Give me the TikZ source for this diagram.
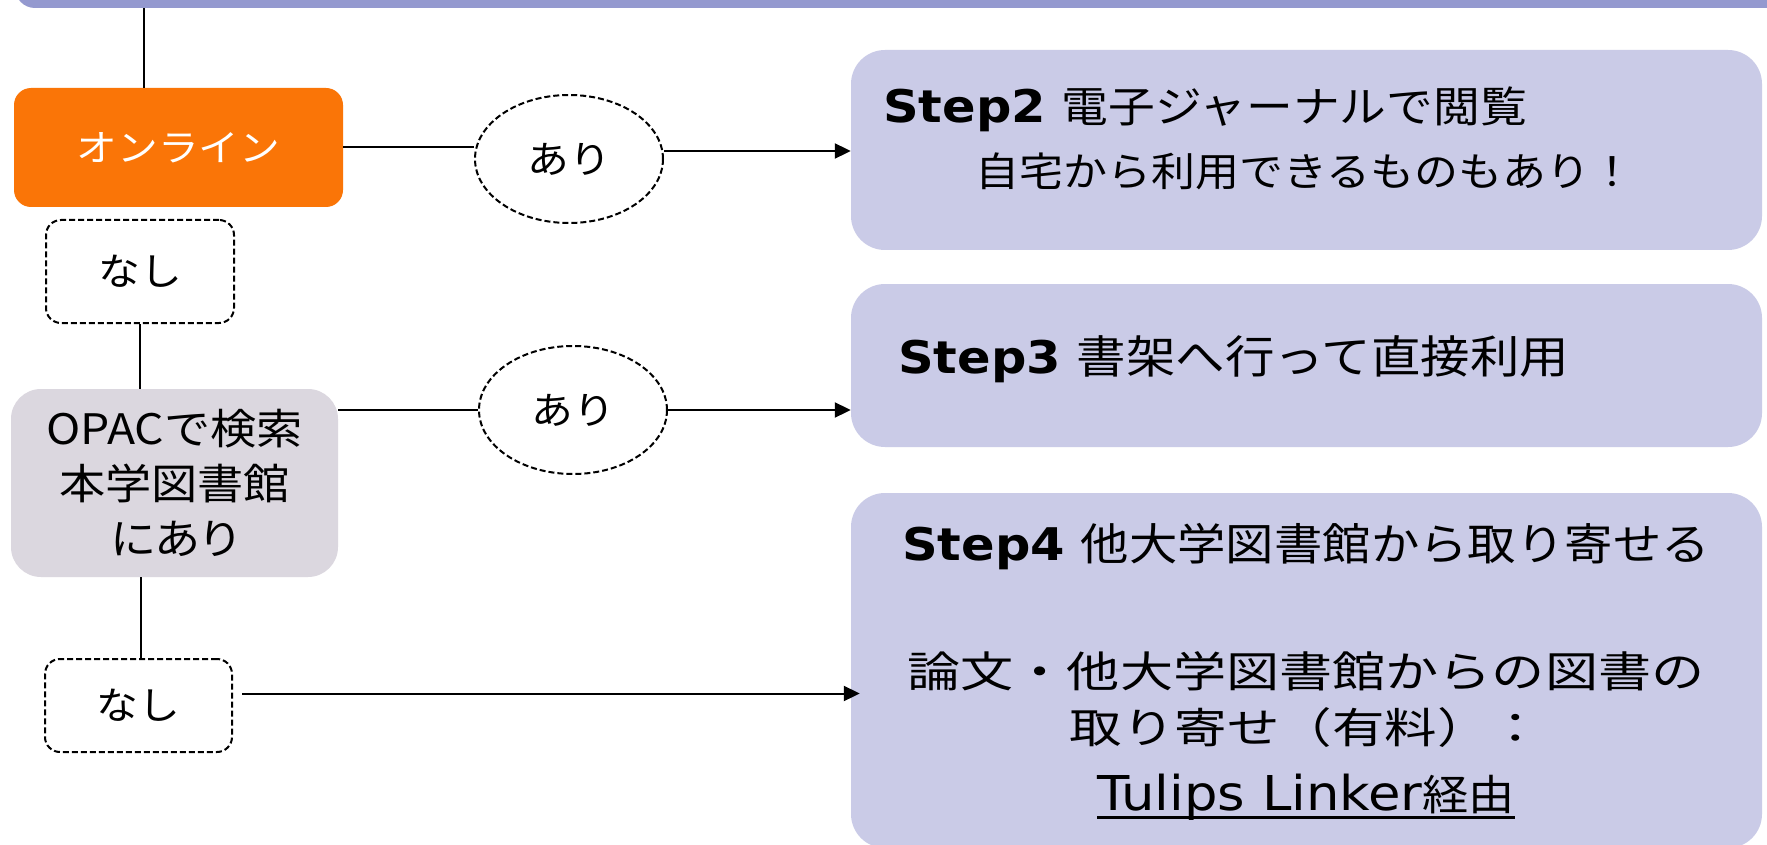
\documentclass[tikz,border=0pt]{standalone}
\usepackage{fontspec}
\setmainfont[FakeStretch=1.1]{DejaVu Sans}
\newfontfamily\cjk[FakeStretch=1.1]{Noto Sans CJK JP}
\newfontfamily\cjkp[FakeStretch=1.1,RawFeature=+palt]{Noto Sans CJK JP}
\newfontfamily\cjkw[FakeStretch=1.25]{Noto Sans CJK JP}
\usetikzlibrary{arrows.meta,shapes.geometric}
\definecolor{barblue}{HTML}{9499CF}
\definecolor{lav}{HTML}{CACBE7}
\definecolor{orng}{HTML}{FA7507}
\definecolor{greyb}{HTML}{DBD7DF}
\newcommand\ulinedtext[1]{\setbox0=\hbox{#1}\rlap{\rule[-9pt]{\wd0}{3.5pt}}\box0}
\newcommand\jfs[1]{\fontsize{#1}{#1}\selectfont}
\begin{document}
\begin{tikzpicture}[x=1pt,y=-1pt,
  topbar/.style={fill=barblue, rounded corners=20pt, minimum width=1800pt, minimum height=96pt, inner sep=0pt},
  stepbox/.style={fill=lav, rounded corners=34pt, minimum width=911pt, inner sep=0pt},
  orangebox/.style={fill=orng, rounded corners=17pt, minimum width=329pt, minimum height=119pt, inner sep=0pt, text=white, font={\cjk\jfs{37}}},
  greybox/.style={fill=greyb, rounded corners=30pt, minimum width=327pt, minimum height=188pt, inner sep=0pt, align=center, font={\cjk\fontsize{42}{55}\selectfont}},
  nashibox/.style={draw, line width=2pt, dash pattern=on 6pt off 3pt, rounded corners=15pt, minimum width=188pt, minimum height=103pt, inner sep=0pt, font={\cjk\jfs{38}}},
  ell/.style={ellipse, draw, line width=2pt, dash pattern=on 6pt off 3pt, minimum width=188pt, minimum height=128pt, inner sep=0pt, font={\cjk\jfs{38}}},
  txt/.style={inner sep=0pt},
  conn/.style={line width=2pt},
  arr/.style={line width=2pt, -{Triangle[length=16pt,width=15pt]}}
]
\useasboundingbox (0,0) rectangle (1767,845);
\fill[white] (0,0) rectangle (1767,845);
\begin{scope}
\clip (0,0) rectangle (1767,845);
\node[topbar] (top) at (915,-40) {};
\node[orangebox] (online) at (178.5,147.5) {オンライン};
\node[ell] (ell1) at (569,159) {あり};
\node[stepbox, minimum height=200pt] (step2) at (1306.5,150) {};
\node[nashibox] (nashi1) at (140,271.5) {なし};
\node[greybox] (opac) at (174.5,483) {OPACで検索\\本学図書館\\{\cjkp にあり}};
\node[ell] (ell2) at (573,410) {あり};
\node[stepbox, minimum height=163pt] (step3) at (1306.5,365.5) {};
\node[nashibox, minimum width=187pt, minimum height=93pt] (nashi2) at (138.5,705.5) {なし};
\node[stepbox, minimum height=355pt] (step4) at (1306.5,670.5) {};

\node[txt, anchor=base west] (s2a) at (883,123) {\fontsize{45}{45}\selectfont\textbf{Step2} {\cjk\jfs{42.5}電子ジャーナルで閲覧}};
\node[txt, anchor=base west] (s2b) at (975,187) {\cjk\jfs{40}自宅から利用できるものもあり！};
\node[txt, anchor=base west] (s3) at (898,373) {\fontsize{45}{45}\selectfont\textbf{Step3} {\cjk\jfs{45}書架へ行って直接利用}};
\node[txt, anchor=base] (s4a) at (1306,560) {\fontsize{45}{45}\selectfont\textbf{Step4} {\cjk\jfs{44}他大学図書館から取り寄せる}};
\node[txt, anchor=base] (s4b) at (1306,687) {\cjkw\jfs{42.5}論文・他大学図書館からの図書の};
\node[txt, anchor=base] (s4c) at (1306,743) {\cjkw\jfs{42}取り寄せ（有料）：};
\node[txt, anchor=base] (s4d) at (1306,810) {\ulinedtext{\fontsize{48}{48}\selectfont Tulips Linker{\cjk\jfs{42}経由}}};

\draw[conn] ([xshift=-34.5pt]online.north) -- ([xshift=-34.5pt]online.north |- top.south);
\draw[conn] (online.east) -- (online.east -| ell1.west);
\draw[arr] ([yshift=8pt]ell1.east) -- ([yshift=8pt]ell1.east -| step2.west);
\draw[conn] (nashi1.south) -- (nashi1.south |- opac.north);
\draw[conn] (opac.east |- ell2.west) -- (ell2.west);
\draw[arr] (ell2.east) -- (ell2.east -| step3.west);
\draw[conn] ([xshift=2.5pt]nashi2.north) -- ([xshift=2.5pt]nashi2.north |- opac.south);
\draw[arr] ([shift={(9pt,12pt)}]nashi2.east) -- ([shift={(9pt,12pt)}]nashi2.east -| step4.west);
\end{scope}
\end{tikzpicture}
\end{document}
